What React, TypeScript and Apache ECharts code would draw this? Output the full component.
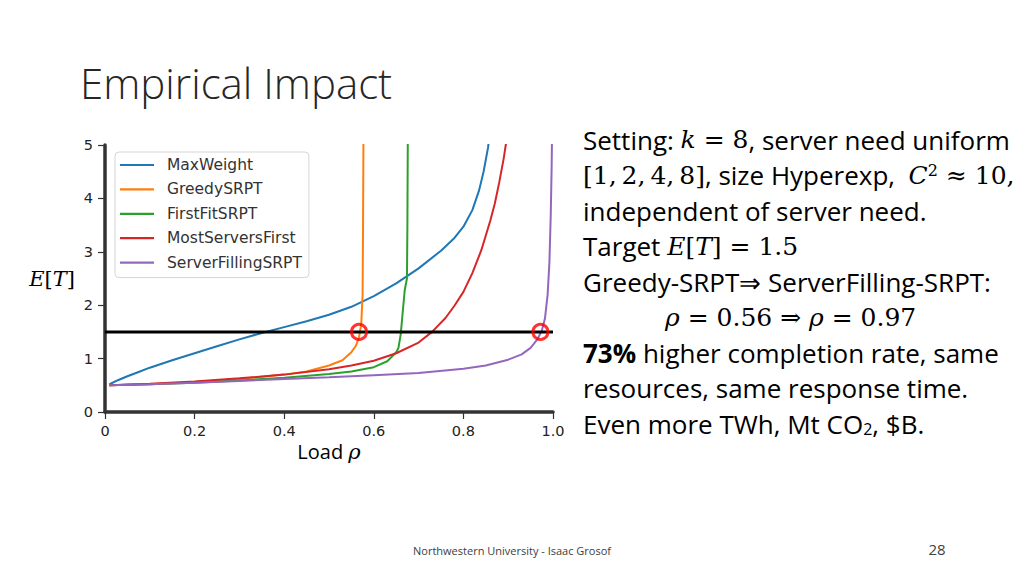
import React, { useEffect, useRef } from "react";
import * as echarts from "echarts";

const seriesNames = ["MaxWeight", "GreedySRPT", "FirstFitSRPT", "MostServersFirst", "ServerFillingSRPT"];
const seriesColors = ["#1f77b4", "#ff7f0e", "#2ca02c", "#d62728", "#9467bd"];

const maxWeight: [number, number][] = [
  [0.01, 0.52], [0.03, 0.6], [0.05, 0.67], [0.075, 0.75], [0.1, 0.83], [0.15, 0.97], [0.2, 1.1], [0.25, 1.23], [0.3, 1.36],
  [0.35, 1.48], [0.4, 1.59], [0.45, 1.7], [0.5, 1.82], [0.55, 1.97], [0.6, 2.17], [0.65, 2.41],
  [0.7, 2.69], [0.75, 3.02], [0.78, 3.26], [0.8, 3.47], [0.82, 3.78], [0.835, 4.15], [0.845, 4.5], [0.855, 4.95], [0.86, 5.3],
];
const greedySRPT: [number, number][] = [
  [0.01, 0.5], [0.1, 0.52], [0.2, 0.56], [0.3, 0.62], [0.4, 0.7], [0.45, 0.76], [0.5, 0.87],
  [0.53, 0.97], [0.55, 1.12], [0.56, 1.24], [0.567, 1.4], [0.572, 1.65], [0.575, 2.2], [0.576, 3.5], [0.577, 5.3],
];
const firstFitSRPT: [number, number][] = [
  [0.01, 0.5], [0.1, 0.52], [0.2, 0.55], [0.3, 0.59], [0.4, 0.64], [0.5, 0.71], [0.55, 0.76],
  [0.6, 0.84], [0.63, 0.95], [0.65, 1.12], [0.655, 1.2], [0.66, 1.45], [0.669, 2.28], [0.674, 2.5],
  [0.675, 3.5], [0.676, 5.3],
];
const mostServersFirst: [number, number][] = [
  [0.01, 0.5], [0.1, 0.53], [0.2, 0.57], [0.3, 0.63], [0.4, 0.7], [0.5, 0.8], [0.55, 0.87],
  [0.6, 0.96], [0.65, 1.1], [0.7, 1.3], [0.73, 1.5], [0.76, 1.76], [0.78, 1.99], [0.8, 2.25], [0.82, 2.6], [0.84, 3.03],
  [0.86, 3.58], [0.87, 3.9], [0.88, 4.3], [0.89, 4.75], [0.9, 5.3],
];
const serverFillingSRPT: [number, number][] = [
  [0.01, 0.5], [0.1, 0.52], [0.2, 0.55], [0.3, 0.58], [0.4, 0.62], [0.5, 0.65], [0.6, 0.69],
  [0.7, 0.73], [0.8, 0.81], [0.85, 0.87], [0.9, 0.98], [0.93, 1.08], [0.95, 1.2], [0.965, 1.36],
  [0.975, 1.52], [0.982, 1.75], [0.988, 2.2], [0.992, 2.8], [0.995, 3.7], [0.997, 4.6], [0.998, 5.3],
];
const seriesData = [maxWeight, greedySRPT, firstFitSRPT, mostServersFirst, serverFillingSRPT];

const targetLine: [number, number][] = [[0, 1.5], [1, 1.5]];
const targetPoints: [number, number][] = [[0.567, 1.5], [0.972, 1.5]];

const xMin = 0, xMax = 1, xStep = 0.2;
const yMin = 0, yMax = 5, yStep = 1;

const titleText = "Empirical Impact";
const footerText = "Northwestern University - Isaac Grosof";
const pageNumber = "28";

const bodyLines: string[] = [
  "{t|Setting: }{mi|k}{m| = 8}{t|, server need uniform}",
  "{m|[1,\u20092,\u20094,\u20098]}{t|, size Hyperexp,  }{mi|C}{sup|2}{m| ≈ 10,}",
  "{t|independent of server need.}",
  "{t|Target }{mi|E}{m|[}{mi|T}{m|] = 1.5}",
  "{t|Greedy-SRPT⇒ ServerFilling-SRPT:}",
  "{mi|ρ}{m| = 0.56 ⇒ }{mi|ρ}{m| = 0.97}",
  "{b|73%}{t| higher completion rate, same}",
  "{t|resources, same response time.}",
  "{t|Even more TWh, Mt CO}{sub|2}{t|, $B.}",
];

const SANS = "Open Sans";
const SERIF = "DejaVu Serif";

export default function App() {
  const ref = useRef<HTMLDivElement>(null);
  useEffect(() => {
    if (!ref.current) return;
    const chart = echarts.init(ref.current, null, { renderer: "svg" });
    const rich = {
      t: { fontFamily: SANS, fontSize: 26, color: "#000" },
      b: { fontFamily: SANS, fontSize: 26, fontWeight: "bold", color: "#000" },
      m: { fontFamily: SERIF, fontSize: 25, color: "#000" },
      mi: { fontFamily: SERIF, fontSize: 25, fontStyle: "italic", color: "#000" },
      sup: { fontFamily: SERIF, fontSize: 16, color: "#000", verticalAlign: "top" },
      sub: { fontFamily: SANS, fontSize: 16, color: "#000", verticalAlign: "bottom" },
    };
    const lineYs = [139.5, 175, 210.5, 246, 281.5, 317, 352.5, 388, 423.5];
    const graphic: any[] = [
      {
        type: "text", x: 80, y: 82,
        style: { text: titleText, fontFamily: SANS, fontWeight: 300, fontSize: 42, fill: "#262626", verticalAlign: "middle" },
      },
      ...bodyLines.map((txt, i) => ({
        type: "text", x: i === 5 ? 665 : 583, y: lineYs[i],
        style: { text: txt, rich, verticalAlign: "middle", align: "left" },
      })),
      {
        type: "text", x: 512, y: 550,
        style: { text: footerText, fontFamily: SANS, fontSize: 11, fill: "#404040", align: "center", verticalAlign: "middle" },
      },
      {
        type: "text", x: 937, y: 549,
        style: { text: pageNumber, fontFamily: SANS, fontSize: 15, fill: "#404040", align: "center", verticalAlign: "middle" },
      },
    ];
    const axisCommon = {
      axisLine: { show: true, onZero: false, lineStyle: { color: "#333", width: 3.5 } },
      axisTick: { show: true, length: 7, lineStyle: { color: "#333", width: 1.2 } },
      splitLine: { show: false },
    };
    chart.setOption({
      animation: false,
      backgroundColor: "#ffffff",
      grid: { left: 105, top: 145, width: 448, height: 267 },
      xAxis: {
        type: "value", min: xMin, max: xMax, interval: xStep,
        ...axisCommon,
        axisLabel: {
          formatter: (v: number) => (v === 0 ? "0" : v.toFixed(1)),
          fontFamily: "DejaVu Sans", fontSize: 14.5, color: "#222", margin: 11,
        },
        name: "{a|Load }{b|ρ}", nameLocation: "middle", nameGap: 29,
        nameTextStyle: {
          rich: {
            a: { fontFamily: SANS, fontSize: 20, color: "#000" },
            b: { fontFamily: SERIF, fontSize: 21, fontStyle: "italic", color: "#000" },
          },
        },
      },
      yAxis: {
        type: "value", min: yMin, max: yMax, interval: yStep,
        ...axisCommon,
        axisLabel: { fontFamily: "DejaVu Sans", fontSize: 14.5, color: "#222", margin: 12 },
        name: "{i|E}{r|[}{i|T}{r|]}", nameLocation: "middle", nameRotate: 0, nameGap: 30,
        nameTextStyle: {
          rich: {
            i: { fontFamily: SERIF, fontSize: 21, fontStyle: "italic", color: "#000" },
            r: { fontFamily: SERIF, fontSize: 21, color: "#000" },
          },
        },
      },
      legend: {
        data: seriesNames,
        orient: "vertical", left: 115, top: 152,
        icon: "rect", itemWidth: 34, itemHeight: 2.2, itemGap: 6.4,
        padding: [4, 7, 6, 5],
        backgroundColor: "rgba(255,255,255,0.85)", borderColor: "#d5d5d5", borderWidth: 1, borderRadius: 4,
        textStyle: { fontFamily: "DejaVu Sans", fontSize: 15.5, color: "#333", lineHeight: 18, padding: [0, 0, 0, 8] },
        selectedMode: false,
      },
      series: [
        ...seriesNames.map((name, i) => ({
          name, type: "line", data: seriesData[i], showSymbol: false, symbol: "none",
          smooth: false, clip: true,
          lineStyle: { color: seriesColors[i], width: 2 }, itemStyle: { color: seriesColors[i] },
          z: 2 + i,
        })),
        {
          name: "target", type: "line", data: targetLine, showSymbol: false, symbol: "none",
          lineStyle: { color: "#000", width: 3 }, z: 10,
        },
        {
          name: "targets", type: "scatter", data: targetPoints, symbol: "circle", symbolSize: 15,
          itemStyle: { color: "rgba(0,0,0,0)", borderColor: "#ff0000", borderWidth: 3 }, z: 11,
        },
      ],
      graphic,
    });
    return () => chart.dispose();
  }, []);
  return <div ref={ref} style={{ position: "fixed", left: 0, top: 0, width: 1024, height: 576 }} />;
}
